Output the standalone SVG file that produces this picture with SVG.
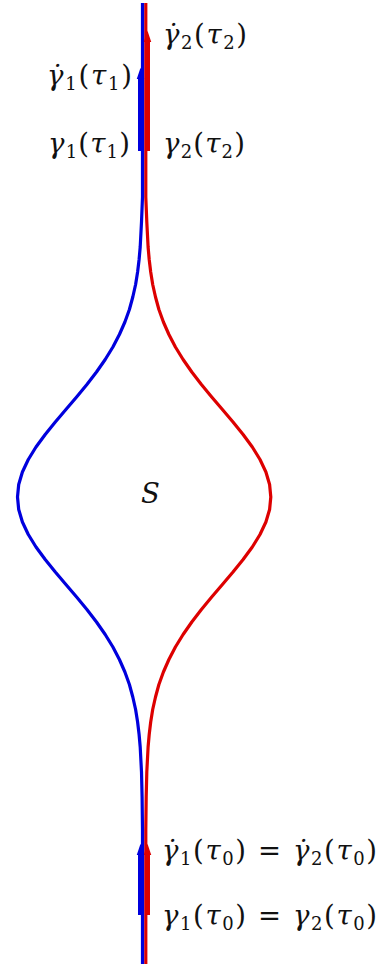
<svg xmlns="http://www.w3.org/2000/svg" width="383" height="964" viewBox="0 0 383 964">
<style>
  .curve { fill: none; stroke-width: 3.2; stroke-linejoin: round; }
  .blue { stroke: #0000dd; }
  .red { stroke: #dd0000; }
  .shaft { stroke-width: 5; fill: none; }
  .lbl { font-family: "DejaVu Serif", "Liberation Serif", serif; font-size: 27.5px; fill: #111111; }
  .it { font-style: italic; }
  .sub { font-size: 18px; }
</style>
<defs>
  <marker id="headBlue" markerUnits="userSpaceOnUse" markerWidth="12" markerHeight="16" refX="0" refY="6" orient="auto" viewBox="0 0 16 12">
    <path d="M0,1 L15,6 L0,11 Z" fill="#0000dd"/>
  </marker>
  <marker id="headRed" markerUnits="userSpaceOnUse" markerWidth="12" markerHeight="16" refX="0" refY="6" orient="auto" viewBox="0 0 16 12">
    <path d="M0,1 L15,6 L0,11 Z" fill="#dd0000"/>
  </marker>
</defs>
<rect width="383" height="964" fill="#ffffff"/>
<g id="connectors">
  <path id="gamma2" class="curve red" d="M145.8,3 L145.8,197 L146.8,222 L148.1,247 L149.2,259.5 L150.7,272 L152.7,284.5 L155.5,297 L158.9,309.5 L163.4,322 L168.9,334.5 L175.4,347 L183.1,359.5 L191.8,372 L201.4,384.5 L211.7,397 L222.4,409.5 L233,422 L243.1,434.5 L252.3,447 L260,459.5 L265.9,472 L269.6,484.5 L270.8,497 L269.6,509.5 L265.9,522 L260,534.5 L252.3,547 L243.1,559.5 L233,572 L222.4,584.5 L211.7,597 L201.4,609.5 L191.8,622 L183.1,634.5 L175.4,647 L168.9,659.5 L163.4,672 L158.9,684.5 L155.5,697 L152.7,709.5 L150.7,722 L149.2,734.5 L148.1,747 L146.8,772 L146.2,797 L145.8,830 L145.8,964"/>
  <path id="gamma1" class="curve blue" d="M142.5,3 L142.5,197 L141.5,222 L140.2,247 L139.1,259.5 L137.6,272 L135.6,284.5 L132.8,297 L129.4,309.5 L124.9,322 L119.4,334.5 L112.9,347 L105.2,359.5 L96.5,372 L86.9,384.5 L76.6,397 L65.9,409.5 L55.3,422 L45.2,434.5 L36,447 L28.3,459.5 L22.4,472 L18.7,484.5 L17.5,497 L18.7,509.5 L22.4,522 L28.3,534.5 L36,547 L45.2,559.5 L55.3,572 L65.9,584.5 L76.6,597 L86.9,609.5 L96.5,622 L105.2,634.5 L112.9,647 L119.4,659.5 L124.9,672 L129.4,684.5 L132.8,697 L135.6,709.5 L137.6,722 L139.1,734.5 L140.2,747 L141.5,772 L142.1,797 L142.5,830 L142.5,964"/>
  <line id="v2top" class="shaft red" x1="147.5" y1="151" x2="147.5" y2="42" marker-end="url(#headRed)"/>
  <line id="v2bot" class="shaft red" x1="147.5" y1="915" x2="147.5" y2="855" marker-end="url(#headRed)"/>
  <line id="v1top" class="shaft blue" x1="140.5" y1="151" x2="140.5" y2="79" marker-end="url(#headBlue)"/>
  <line id="v1bot" class="shaft blue" x1="140.5" y1="915" x2="140.5" y2="855" marker-end="url(#headBlue)"/>
</g>
<g id="label-gdot2-tau2">
  <text class="lbl" x="163" y="44" textLength="84" lengthAdjust="spacing"><tspan class="it">γ̇</tspan><tspan class="sub" dy="5">2</tspan><tspan dy="-5">(</tspan><tspan class="it">τ</tspan><tspan class="sub" dy="5">2</tspan><tspan dy="-5">)</tspan></text>
</g>
<g id="label-gdot1-tau1">
  <text class="lbl" x="47" y="85" textLength="85" lengthAdjust="spacing"><tspan class="it">γ̇</tspan><tspan class="sub" dy="5">1</tspan><tspan dy="-5">(</tspan><tspan class="it">τ</tspan><tspan class="sub" dy="5">1</tspan><tspan dy="-5">)</tspan></text>
</g>
<g id="label-g1-tau1">
  <text class="lbl" x="48" y="153" textLength="82" lengthAdjust="spacing"><tspan class="it">γ</tspan><tspan class="sub" dy="5">1</tspan><tspan dy="-5">(</tspan><tspan class="it">τ</tspan><tspan class="sub" dy="5">1</tspan><tspan dy="-5">)</tspan></text>
</g>
<g id="label-g2-tau2">
  <text class="lbl" x="163" y="153" textLength="82" lengthAdjust="spacing"><tspan class="it">γ</tspan><tspan class="sub" dy="5">2</tspan><tspan dy="-5">(</tspan><tspan class="it">τ</tspan><tspan class="sub" dy="5">2</tspan><tspan dy="-5">)</tspan></text>
</g>
<g id="label-S">
  <text class="lbl it" x="141" y="503">S</text>
</g>
<g id="label-gdot-tau0">
  <text class="lbl" x="162" y="860" textLength="215" lengthAdjust="spacing"><tspan class="it">γ̇</tspan><tspan class="sub" dy="5">1</tspan><tspan dy="-5">(</tspan><tspan class="it">τ</tspan><tspan class="sub" dy="5">0</tspan><tspan dy="-5">) = </tspan><tspan class="it">γ̇</tspan><tspan class="sub" dy="5">2</tspan><tspan dy="-5">(</tspan><tspan class="it">τ</tspan><tspan class="sub" dy="5">0</tspan><tspan dy="-5">)</tspan></text>
</g>
<g id="label-g-tau0">
  <text class="lbl" x="162" y="925" textLength="215" lengthAdjust="spacing"><tspan class="it">γ</tspan><tspan class="sub" dy="5">1</tspan><tspan dy="-5">(</tspan><tspan class="it">τ</tspan><tspan class="sub" dy="5">0</tspan><tspan dy="-5">) = </tspan><tspan class="it">γ</tspan><tspan class="sub" dy="5">2</tspan><tspan dy="-5">(</tspan><tspan class="it">τ</tspan><tspan class="sub" dy="5">0</tspan><tspan dy="-5">)</tspan></text>
</g>
</svg>
